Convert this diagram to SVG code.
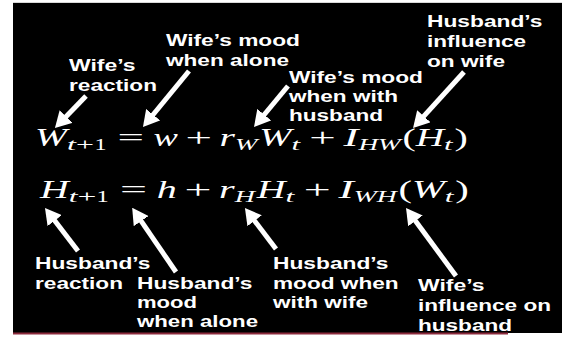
<svg xmlns="http://www.w3.org/2000/svg" width="562" height="338" viewBox="0 0 562 338">
<style>
.lb{font-family:"Liberation Sans",Arial,sans-serif;font-weight:bold;font-size:17px;fill:#fff}
.m{font-family:"Liberation Serif","Times New Roman",serif;font-size:25px;fill:#fff}
.i{font-style:italic}
.s{font-size:17px}
.ar{stroke:#fff;stroke-width:5;fill:none;marker-end:url(#ah)}
</style>
<defs>
<marker id="ah" markerUnits="userSpaceOnUse" markerWidth="16" markerHeight="18" viewBox="0 0 16 18" refX="3" refY="9" orient="auto">
<path d="M0,0 L16,9 L0,18 z" fill="#fff"/>
</marker>
</defs>
<rect x="0" y="0" width="562" height="338" fill="#fff"/>
<rect x="13" y="2" width="549" height="1" fill="#d8d8d8"/>
<rect x="13" y="3" width="549" height="330" fill="#000"/>
<rect x="13" y="332.5" width="495" height="2" fill="#8c2a3c"/>

<g id="eq1">
<text class="m i" x="35" y="146" textLength="32" lengthAdjust="spacingAndGlyphs">W</text>
<text class="m s i" x="67" y="150" textLength="9" lengthAdjust="spacingAndGlyphs">t</text>
<text class="m s" x="76" y="150" textLength="18" lengthAdjust="spacingAndGlyphs">+</text>
<text class="m s" x="94.5" y="150" textLength="12" lengthAdjust="spacingAndGlyphs">1</text>
<text class="m" x="117.5" y="146" textLength="26.5" lengthAdjust="spacingAndGlyphs">=</text>
<text class="m i" x="153.5" y="146" textLength="24.4" lengthAdjust="spacingAndGlyphs">w</text>
<text class="m" x="185.5" y="146" textLength="26.5" lengthAdjust="spacingAndGlyphs">+</text>
<text class="m i" x="219.6" y="146" textLength="15.4" lengthAdjust="spacingAndGlyphs">r</text>
<text class="m s i" x="235" y="150" textLength="22.5" lengthAdjust="spacingAndGlyphs">W</text>
<text class="m i" x="259.2" y="146" textLength="32.2" lengthAdjust="spacingAndGlyphs">W</text>
<text class="m s i" x="291.4" y="150" textLength="8.6" lengthAdjust="spacingAndGlyphs">t</text>
<text class="m" x="309.3" y="146" textLength="26.5" lengthAdjust="spacingAndGlyphs">+</text>
<text class="m i" x="343.4" y="146" textLength="15" lengthAdjust="spacingAndGlyphs">I</text>
<text class="m s i" x="358.4" y="150" textLength="42.3" lengthAdjust="spacingAndGlyphs">HW</text>
<text class="m" x="402.5" y="146" textLength="13.3" lengthAdjust="spacingAndGlyphs">(</text>
<text class="m i" x="415.8" y="146" textLength="28.3" lengthAdjust="spacingAndGlyphs">H</text>
<text class="m s i" x="444.1" y="150" textLength="8.6" lengthAdjust="spacingAndGlyphs">t</text>
<text class="m" x="454.4" y="146" textLength="13.3" lengthAdjust="spacingAndGlyphs">)</text>
</g>

<g id="eq2">
<text class="m i" x="40" y="198" textLength="28.8" lengthAdjust="spacingAndGlyphs">H</text>
<text class="m s i" x="68.8" y="202" textLength="8.8" lengthAdjust="spacingAndGlyphs">t</text>
<text class="m s" x="77.6" y="202" textLength="18.9" lengthAdjust="spacingAndGlyphs">+</text>
<text class="m s" x="96.5" y="202" textLength="12.2" lengthAdjust="spacingAndGlyphs">1</text>
<text class="m" x="120.1" y="198" textLength="27" lengthAdjust="spacingAndGlyphs">=</text>
<text class="m i" x="156.7" y="198" textLength="20" lengthAdjust="spacingAndGlyphs">h</text>
<text class="m" x="184.4" y="198" textLength="27" lengthAdjust="spacingAndGlyphs">+</text>
<text class="m i" x="219.1" y="198" textLength="15.6" lengthAdjust="spacingAndGlyphs">r</text>
<text class="m s i" x="234.7" y="202" textLength="20.2" lengthAdjust="spacingAndGlyphs">H</text>
<text class="m i" x="256.7" y="198" textLength="28.8" lengthAdjust="spacingAndGlyphs">H</text>
<text class="m s i" x="285.5" y="202" textLength="8.8" lengthAdjust="spacingAndGlyphs">t</text>
<text class="m" x="303.7" y="198" textLength="27" lengthAdjust="spacingAndGlyphs">+</text>
<text class="m i" x="338.4" y="198" textLength="15.3" lengthAdjust="spacingAndGlyphs">I</text>
<text class="m s i" x="353.7" y="202" textLength="43.1" lengthAdjust="spacingAndGlyphs">WH</text>
<text class="m" x="398.5" y="198" textLength="13.5" lengthAdjust="spacingAndGlyphs">(</text>
<text class="m i" x="412" y="198" textLength="32.8" lengthAdjust="spacingAndGlyphs">W</text>
<text class="m s i" x="444.8" y="202" textLength="8.8" lengthAdjust="spacingAndGlyphs">t</text>
<text class="m" x="455.3" y="198" textLength="13.5" lengthAdjust="spacingAndGlyphs">)</text>
</g>

<g id="wife-reaction">
<text class="lb" x="69" y="71" textLength="66.5" lengthAdjust="spacingAndGlyphs">Wife’s</text>
<text class="lb" x="69" y="91" textLength="88" lengthAdjust="spacingAndGlyphs">reaction</text>
</g>
<g id="wife-alone">
<text class="lb" x="166" y="46" textLength="134" lengthAdjust="spacingAndGlyphs">Wife’s mood</text>
<text class="lb" x="166" y="66" textLength="123" lengthAdjust="spacingAndGlyphs">when alone</text>
</g>
<g id="wife-with-husband">
<text class="lb" x="289" y="83" textLength="134" lengthAdjust="spacingAndGlyphs">Wife’s mood</text>
<text class="lb" x="289" y="102" textLength="109" lengthAdjust="spacingAndGlyphs">when with</text>
<text class="lb" x="289" y="121" textLength="94" lengthAdjust="spacingAndGlyphs">husband</text>
</g>
<g id="husband-influence">
<text class="lb" x="427" y="27" textLength="115.5" lengthAdjust="spacingAndGlyphs">Husband’s</text>
<text class="lb" x="427" y="47" textLength="99" lengthAdjust="spacingAndGlyphs">influence</text>
<text class="lb" x="427" y="67" textLength="78" lengthAdjust="spacingAndGlyphs">on wife</text>
</g>
<g id="husband-reaction">
<text class="lb" x="35" y="269" textLength="115.5" lengthAdjust="spacingAndGlyphs">Husband’s</text>
<text class="lb" x="35" y="289" textLength="88" lengthAdjust="spacingAndGlyphs">reaction</text>
</g>
<g id="husband-alone">
<text class="lb" x="137" y="289" textLength="115.5" lengthAdjust="spacingAndGlyphs">Husband’s</text>
<text class="lb" x="137" y="308" textLength="60" lengthAdjust="spacingAndGlyphs">mood</text>
<text class="lb" x="137" y="327" textLength="121" lengthAdjust="spacingAndGlyphs">when alone</text>
</g>
<g id="husband-with-wife">
<text class="lb" x="273" y="269" textLength="115.5" lengthAdjust="spacingAndGlyphs">Husband’s</text>
<text class="lb" x="273" y="289" textLength="125.6" lengthAdjust="spacingAndGlyphs">mood when</text>
<text class="lb" x="273" y="308" textLength="95" lengthAdjust="spacingAndGlyphs">with wife</text>
</g>
<g id="wife-influence">
<text class="lb" x="418" y="291" textLength="66.5" lengthAdjust="spacingAndGlyphs">Wife’s</text>
<text class="lb" x="418" y="311" textLength="133" lengthAdjust="spacingAndGlyphs">influence on</text>
<text class="lb" x="418" y="331" textLength="94" lengthAdjust="spacingAndGlyphs">husband</text>
</g>

<g id="connectors">
<line class="ar" x1="86" y1="96" x2="64" y2="118.7"/>
<line class="ar" x1="189" y1="71" x2="151.2" y2="117"/>
<line class="ar" x1="288" y1="86" x2="262.3" y2="117"/>
<line class="ar" x1="464" y1="72" x2="421.8" y2="118.4"/>
<line class="ar" x1="78" y1="251" x2="52.9" y2="218.3"/>
<line class="ar" x1="176" y1="272" x2="139.5" y2="218.6"/>
<line class="ar" x1="276" y1="249" x2="252.8" y2="218.4"/>
<line class="ar" x1="456" y1="276" x2="413.7" y2="218.5"/>
</g>
</svg>
